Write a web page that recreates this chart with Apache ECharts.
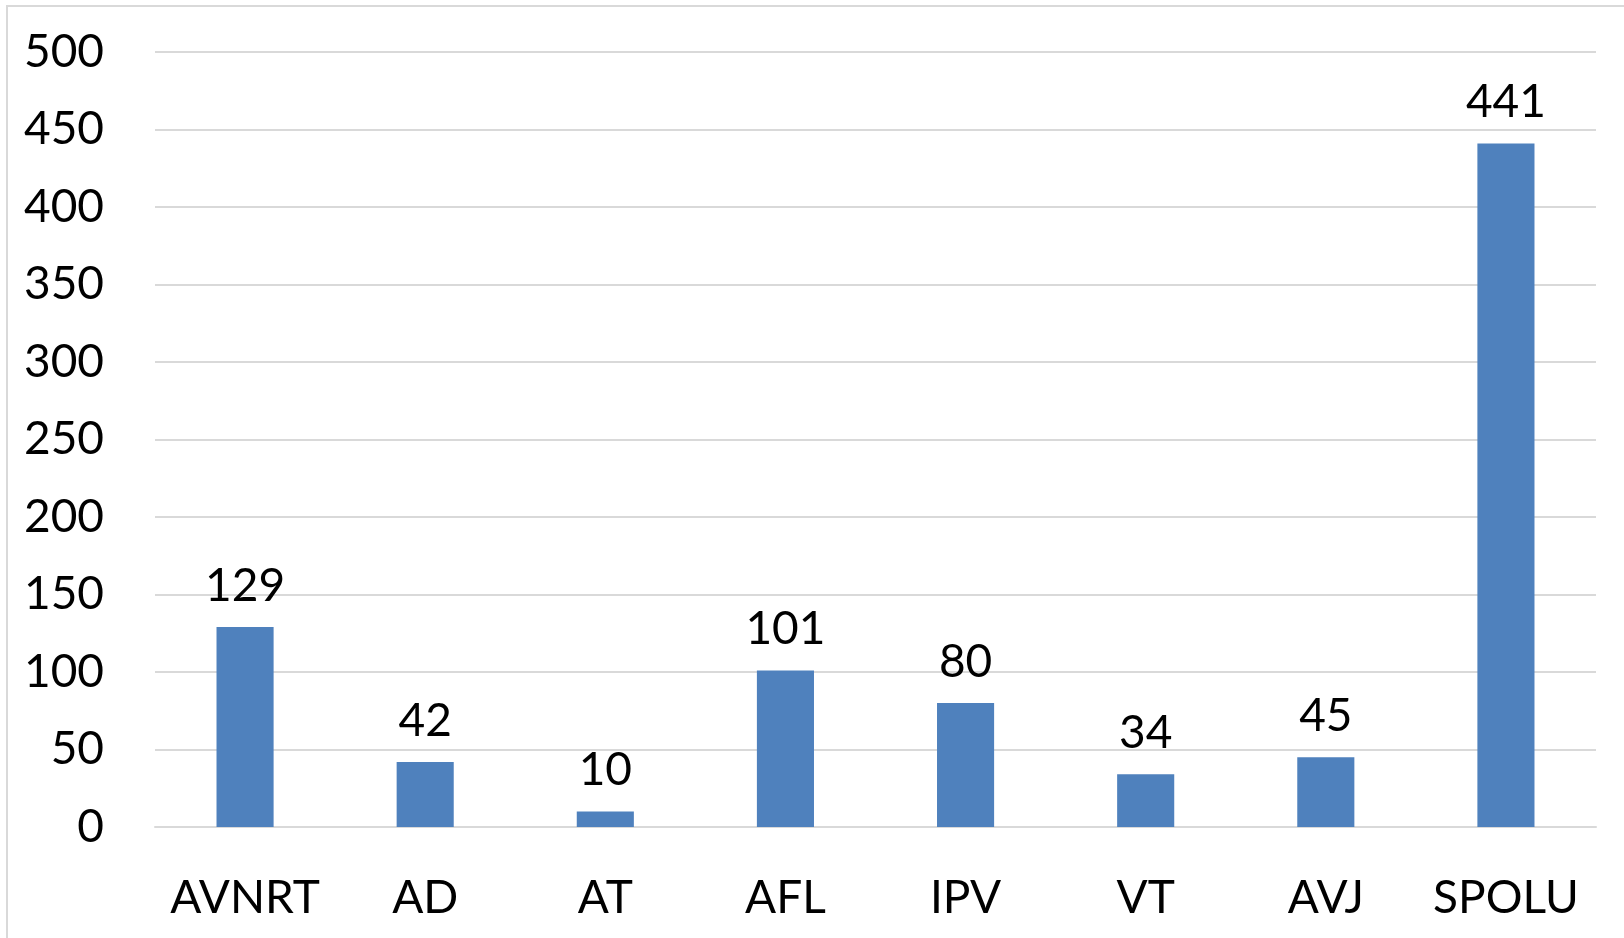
<!DOCTYPE html>
<html>
<head>
<meta charset="utf-8">
<script src="https://cdn.jsdelivr.net/npm/echarts@6/dist/echarts.min.js"></script>
<style>
html,body{margin:0;padding:0;background:#fff;}
#chart{width:1624px;height:938px;}
</style>
</head>
<body>
<div id="chart"></div>
<script>
const categories = ['AVNRT', 'AD', 'AT', 'AFL', 'IPV', 'VT', 'AVJ', 'SPOLU'];
const values = [129, 42, 10, 101, 80, 34, 45, 441];
const yMin = 0, yMax = 500, yStep = 50;

const FONT = 'Lato';
const chart = echarts.init(document.getElementById('chart'), null, {renderer: 'canvas'});
chart.setOption({
  backgroundColor: '#ffffff',
  animation: false,
  graphic: [{
    type: 'rect',
    shape: {x: 7, y: 6, width: 2000, height: 2000},
    style: {fill: 'none', stroke: '#d9d9d9', lineWidth: 2},
    silent: true
  }],
  grid: {left: 155, right: 28, top: 52, bottom: 111},
  xAxis: {
    type: 'category',
    data: categories,
    axisLine: {show: true, lineStyle: {color: '#d9d9d9', width: 2}},
    axisTick: {show: false},
    axisLabel: {color: '#000', fontFamily: FONT, fontSize: 46, margin: 48, interval: 0, hideOverlap: false}
  },
  yAxis: {
    type: 'value',
    min: yMin, max: yMax, interval: yStep,
    axisLine: {show: false},
    axisTick: {show: false},
    splitLine: {lineStyle: {color: '#d9d9d9', width: 2}},
    axisLabel: {color: '#000', fontFamily: FONT, fontSize: 46, margin: 51}
  },
  series: [{
    type: 'bar',
    data: values,
    barWidth: '31.7%',
    itemStyle: {color: '#4f81bd'},
    label: {show: true, position: 'top', distance: 18, color: '#000', fontFamily: FONT, fontSize: 46}
  }]
});
</script>
</body>
</html>
